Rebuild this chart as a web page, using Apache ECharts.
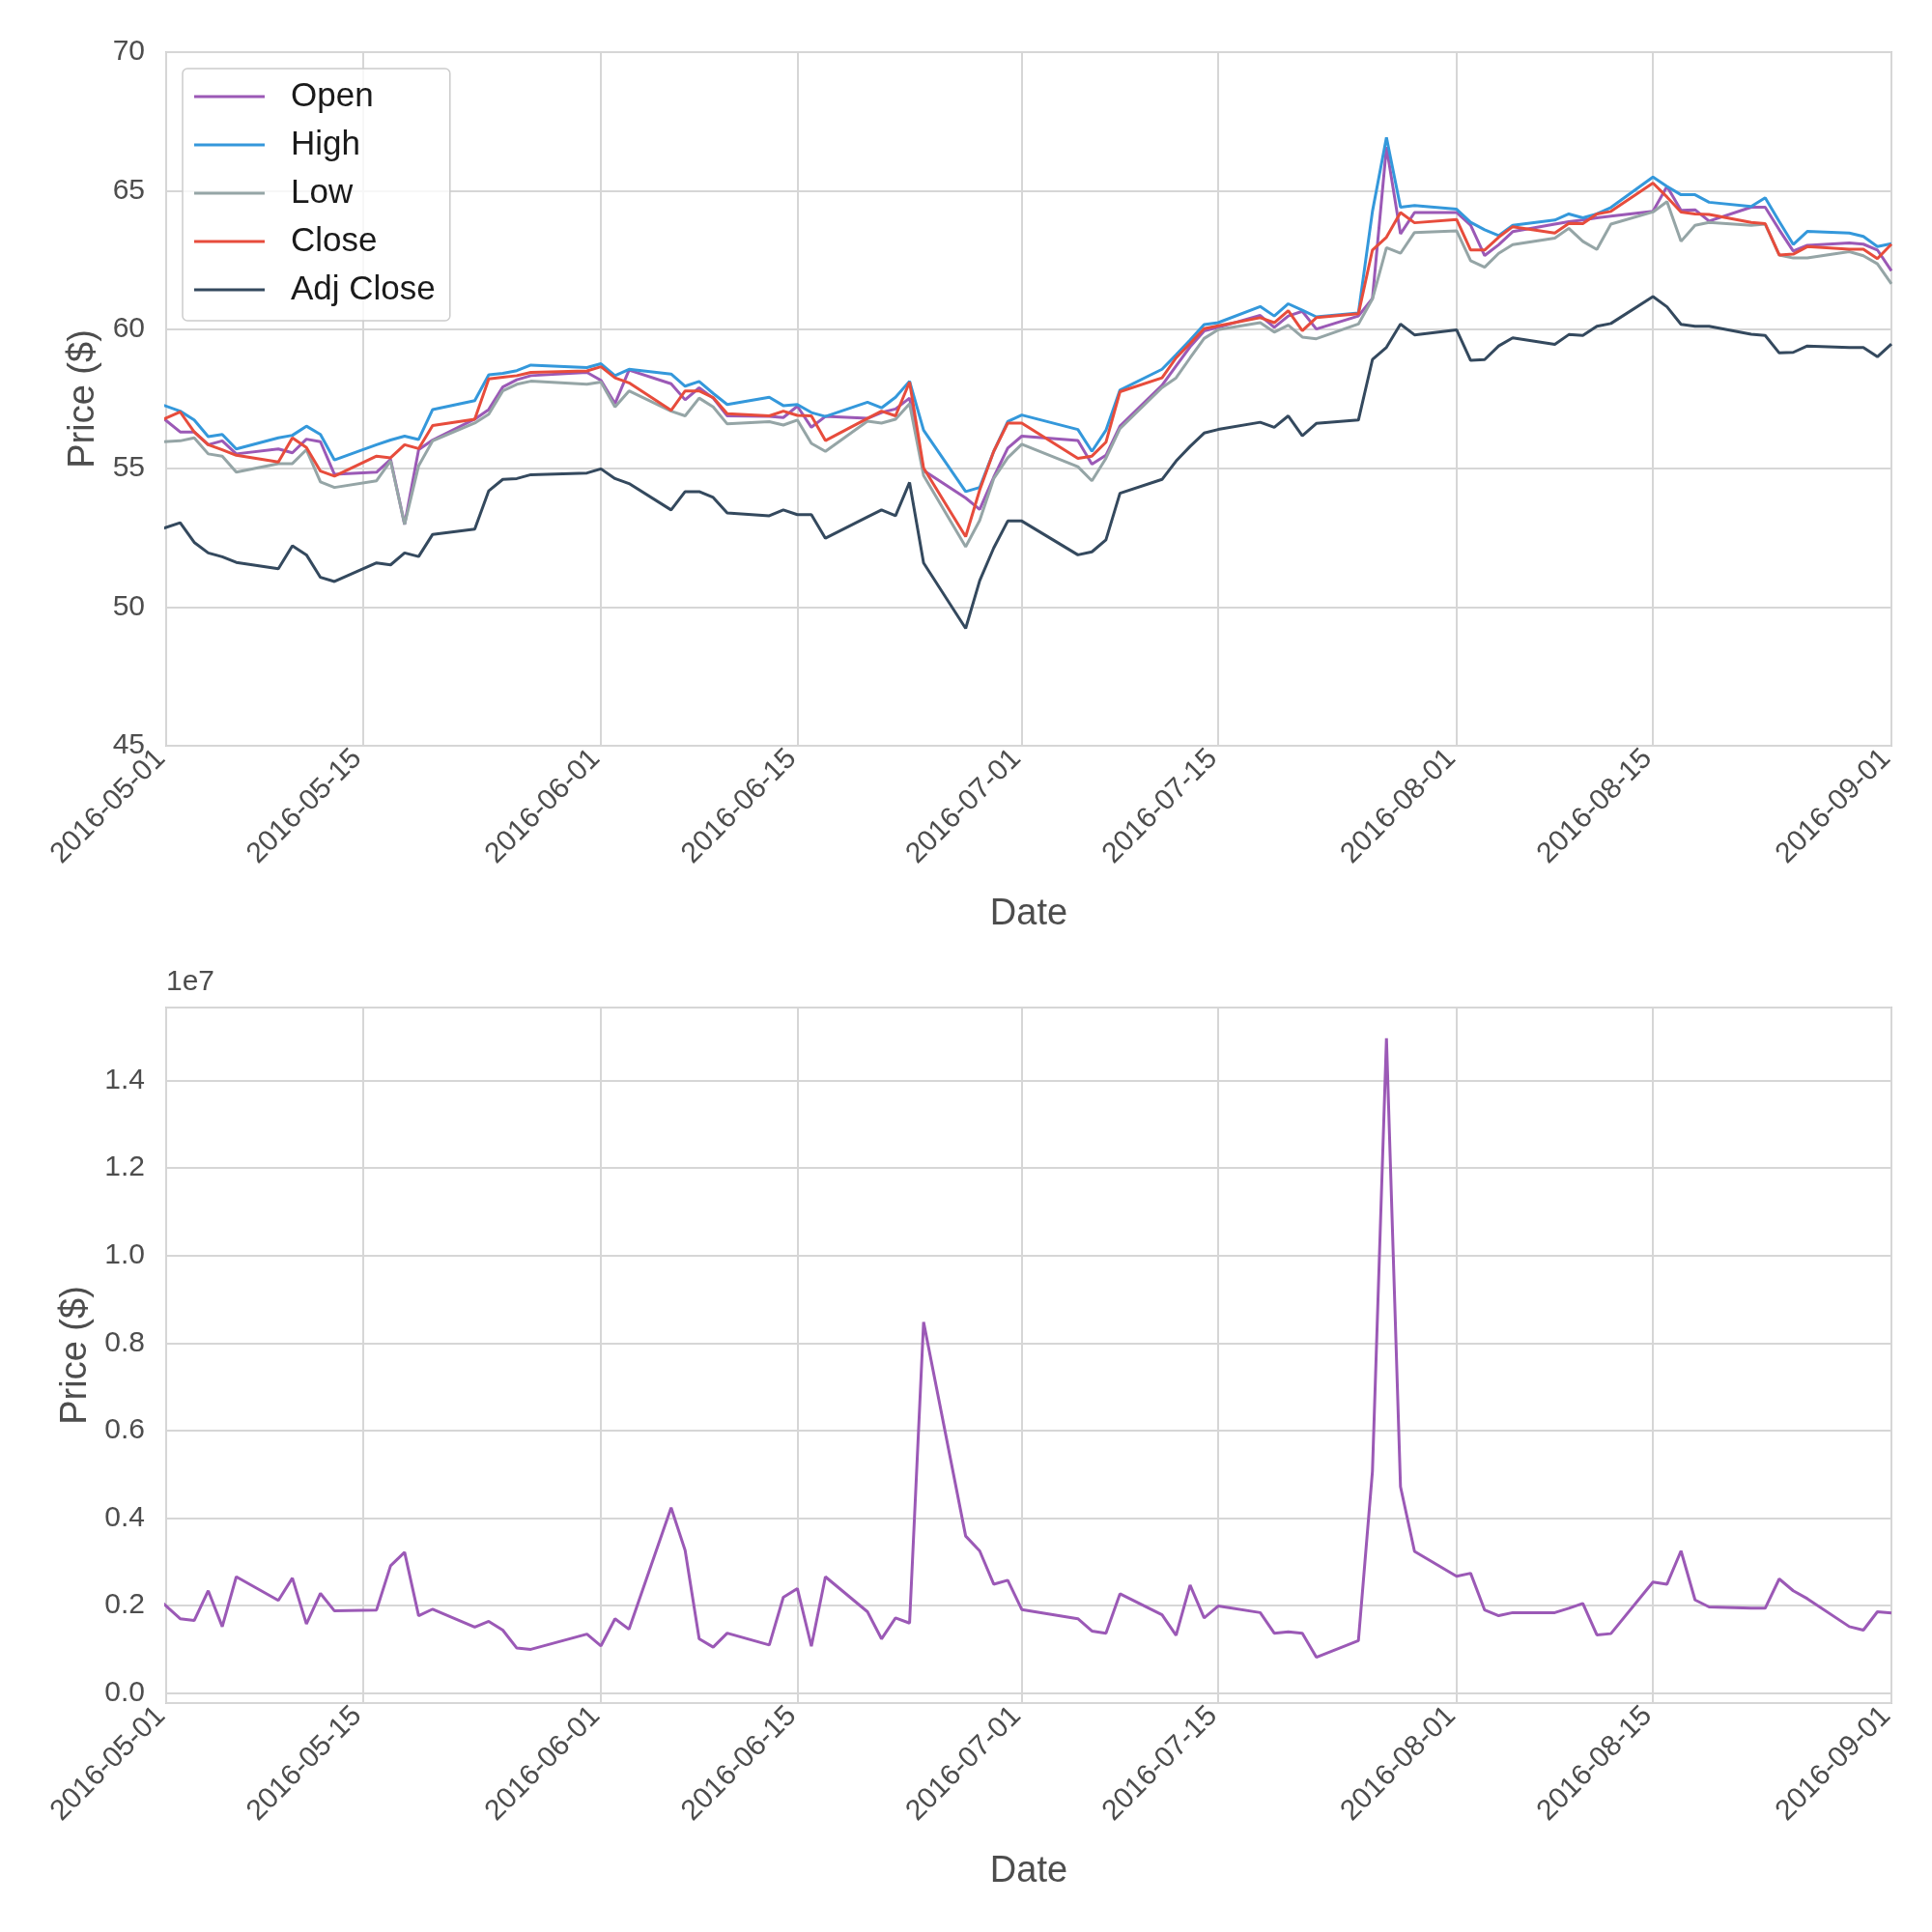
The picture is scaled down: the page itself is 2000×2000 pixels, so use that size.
<!DOCTYPE html>
<html>
<head>
<meta charset="utf-8">
<title>Prices and volume, May - Sep 2016</title>
<script src="https://cdn.jsdelivr.net/npm/echarts@6/dist/echarts.min.js"></script>
<style>
  html, body { margin: 0; padding: 0; background: #ffffff; }
  #main { width: 2000px; height: 2000px; }
</style>
</head>
<body>
<div id="main"></div>
<script>
// trading days (29 Apr only shows as the clipped segment at the left edge)
const dates = [
  '2016-04-29',
  '2016-05-02', '2016-05-03', '2016-05-04', '2016-05-05', '2016-05-06',
  '2016-05-09', '2016-05-10', '2016-05-11', '2016-05-12', '2016-05-13',
  '2016-05-16', '2016-05-17', '2016-05-18', '2016-05-19', '2016-05-20',
  '2016-05-23', '2016-05-24', '2016-05-25', '2016-05-26', '2016-05-27',
  '2016-05-31', '2016-06-01', '2016-06-02', '2016-06-03',
  '2016-06-06', '2016-06-07', '2016-06-08', '2016-06-09', '2016-06-10',
  '2016-06-13', '2016-06-14', '2016-06-15', '2016-06-16', '2016-06-17',
  '2016-06-20', '2016-06-21', '2016-06-22', '2016-06-23', '2016-06-24',
  '2016-06-27', '2016-06-28', '2016-06-29', '2016-06-30', '2016-07-01',
  '2016-07-05', '2016-07-06', '2016-07-07', '2016-07-08',
  '2016-07-11', '2016-07-12', '2016-07-13', '2016-07-14', '2016-07-15',
  '2016-07-18', '2016-07-19', '2016-07-20', '2016-07-21', '2016-07-22',
  '2016-07-25', '2016-07-26', '2016-07-27', '2016-07-28', '2016-07-29',
  '2016-08-01', '2016-08-02', '2016-08-03', '2016-08-04', '2016-08-05',
  '2016-08-08', '2016-08-09', '2016-08-10', '2016-08-11', '2016-08-12',
  '2016-08-15', '2016-08-16', '2016-08-17', '2016-08-18', '2016-08-19',
  '2016-08-22', '2016-08-23', '2016-08-24', '2016-08-25', '2016-08-26',
  '2016-08-29', '2016-08-30', '2016-08-31', '2016-09-01'
];

const openPrices = [
  57.54,
  56.31, 56.31, 55.85, 55.99, 55.52,
  55.70, 55.56, 56.05, 55.96, 54.78,
  54.86, 55.32, 52.98, 55.67, 56.02,
  56.77, 57.12, 57.93, 58.19, 58.34,
  58.46, 58.17, 57.33, 58.54,
  58.05, 57.47, 57.90, 57.53, 56.89,
  56.87, 56.83, 57.24, 56.48, 56.87,
  56.80, 57.01, 57.14, 57.53, 54.92,
  53.93, 53.52, 54.68, 55.73, 56.16,
  56.00, 55.15, 55.47, 56.52,
  57.99, 58.69, 59.38, 59.95, 60.08,
  60.51, 60.08, 60.49, 60.66, 60.02,
  60.49, 61.12, 66.58, 63.45, 64.22,
  64.22, 63.76, 62.67, 63.06, 63.53,
  63.80, 63.89, 63.95, 64.03, 64.09,
  64.26, 65.16, 64.30, 64.32, 63.91,
  64.41, 64.41, 63.60, 62.83, 63.04,
  63.12, 63.08, 62.87, 62.12
];

const highPrices = [
  57.60,
  57.06, 56.74, 56.14, 56.22, 55.70,
  56.10, 56.19, 56.52, 56.22, 55.30,
  55.85, 56.02, 56.16, 56.04, 57.12,
  57.44, 58.37, 58.42, 58.52, 58.72,
  58.63, 58.77, 58.34, 58.57,
  58.40, 57.96, 58.13, 57.70, 57.30,
  57.56, 57.26, 57.30, 57.01, 56.87,
  57.38, 57.18, 57.56, 58.14, 56.37,
  54.16, 54.31, 55.61, 56.69, 56.92,
  56.40, 55.61, 56.37, 57.82,
  58.57, 59.09, 59.62, 60.18, 60.25,
  60.83, 60.49, 60.93, 60.70, 60.46,
  60.60, 64.26, 66.93, 64.41, 64.47,
  64.34, 63.87, 63.60, 63.39, 63.76,
  63.95, 64.17, 64.03, 64.17, 64.40,
  65.50, 65.16, 64.86, 64.86, 64.59,
  64.44, 64.75, 63.90, 63.07, 63.54,
  63.48, 63.36, 62.99, 63.10
];

const lowPrices = [
  55.90,
  55.99, 56.10, 55.52, 55.44, 54.86,
  55.17, 55.17, 55.67, 54.51, 54.31,
  54.55, 55.27, 52.98, 55.09, 55.99,
  56.63, 56.95, 57.79, 58.03, 58.14,
  58.03, 58.11, 57.21, 57.79,
  57.06, 56.89, 57.53, 57.21, 56.60,
  56.68, 56.56, 56.74, 55.90, 55.61,
  56.70, 56.63, 56.77, 57.33, 54.74,
  52.17, 53.12, 54.63, 55.38, 55.87,
  55.06, 54.55, 55.36, 56.43,
  57.91, 58.26, 58.98, 59.68, 60.00,
  60.25, 59.91, 60.16, 59.73, 59.67,
  60.20, 61.10, 62.95, 62.75, 63.50,
  63.56, 62.48, 62.25, 62.75, 63.06,
  63.30, 63.65, 63.18, 62.89, 63.80,
  64.24, 64.61, 63.18, 63.76, 63.86,
  63.76, 63.80, 62.69, 62.58, 62.58,
  62.81, 62.66, 62.37, 61.65
];

const closePrices = [
  56.37,
  57.03, 56.31, 55.85, 55.67, 55.47,
  55.23, 56.10, 55.75, 54.90, 54.72,
  55.44, 55.38, 55.85, 55.71, 56.54,
  56.77, 58.22, 58.28, 58.34, 58.46,
  58.51, 58.66, 58.26, 58.08,
  57.09, 57.79, 57.79, 57.55, 56.97,
  56.89, 57.06, 56.91, 56.89, 56.00,
  56.80, 57.06, 56.89, 58.11, 55.01,
  52.54, 54.22, 55.61, 56.63, 56.63,
  55.36, 55.44, 55.94, 57.76,
  58.26, 58.98, 59.50, 60.03, 60.14,
  60.43, 60.25, 60.68, 59.96, 60.43,
  60.57, 62.87, 63.33, 64.22, 63.85,
  63.97, 62.87, 62.87, 63.33, 63.71,
  63.48, 63.83, 63.82, 64.17, 64.26,
  65.28, 64.78, 64.24, 64.17, 64.15,
  63.86, 63.82, 62.69, 62.72, 62.99,
  62.90, 62.90, 62.56, 63.08
];

const adjClosePrices = [
  52.53,
  53.04, 52.33, 51.95, 51.81, 51.61,
  51.38, 52.21, 51.88, 51.07, 50.92,
  51.59, 51.52, 51.95, 51.82, 52.62,
  52.81, 54.19, 54.60, 54.63, 54.77,
  54.83, 54.98, 54.63, 54.45,
  53.50, 54.16, 54.16, 53.95, 53.39,
  53.29, 53.50, 53.33, 53.33, 52.48,
  53.25, 53.50, 53.29, 54.49, 51.59,
  49.23, 50.95, 52.13, 53.10, 53.10,
  51.88, 51.99, 52.42, 54.10,
  54.60, 55.26, 55.79, 56.27, 56.40,
  56.66, 56.48, 56.89, 56.17, 56.62,
  56.74, 58.92, 59.36, 60.20, 59.81,
  59.99, 58.89, 58.92, 59.41, 59.70,
  59.47, 59.82, 59.79, 60.12, 60.22,
  61.19, 60.82, 60.19, 60.12, 60.12,
  59.83, 59.79, 59.16, 59.18, 59.41,
  59.35, 59.35, 59.02, 59.48
];

const volumes = [
  2570000,
  1700000, 1660000, 2340000, 1520000, 2660000,
  2120000, 2630000, 1580000, 2280000, 1880000,
  1900000, 2910000, 3220000, 1770000, 1920000,
  1510000, 1640000, 1440000, 1030000, 1000000,
  1350000, 1080000, 1700000, 1460000,
  4240000, 3260000, 1240000, 1050000, 1370000,
  1100000, 2190000, 2390000, 1070000, 2660000,
  1860000, 1240000, 1720000, 1600000, 8480000,
  3590000, 3250000, 2490000, 2580000, 1910000,
  1700000, 1420000, 1370000, 2270000,
  1790000, 1320000, 2470000, 1720000, 1990000,
  1840000, 1370000, 1400000, 1370000, 820000,
  1200000, 5070000, 14970000, 4720000, 3240000,
  2670000, 2740000, 1900000, 1770000, 1840000,
  1840000, 1940000, 2050000, 1330000, 1360000,
  2540000, 2490000, 3250000, 2130000, 1970000,
  1940000, 1940000, 2610000, 2340000, 2160000,
  1520000, 1440000, 1860000, 1830000
];

const seriesNames = ['Open', 'High', 'Low', 'Close', 'Adj Close'];
const tickDates = ['2016-05-01', '2016-05-15', '2016-06-01', '2016-06-15', '2016-07-01',
  '2016-07-15', '2016-08-01', '2016-08-15', '2016-09-01'];

const colors = ['#9b59b6', '#3498db', '#95a5a6', '#e74c3c', '#34495e'];
const fontFamily = '"Liberation Sans", Arial, sans-serif';
const textGray = '#4d4d4d';
const gridGray = '#d6d6d6';

// dates become millisecond numbers on a plain value axis
function toTime(s) {
  const p = s.split('-');
  return Date.UTC(+p[0], +p[1] - 1, +p[2]);
}
function fmtDate(v) {
  const d = new Date(v);
  return d.getUTCFullYear() + '-' + String(d.getUTCMonth() + 1).padStart(2, '0') + '-' +
    String(d.getUTCDate()).padStart(2, '0');
}

const tickTimes = tickDates.map(toTime);
const xMin = tickTimes[0];
const xMax = tickTimes[tickTimes.length - 1];

function dateAxis(gridIndex) {
  return {
    type: 'value',
    gridIndex: gridIndex,
    min: xMin,
    max: xMax,
    name: 'Date',
    nameLocation: 'middle',
    nameGap: 156,
    nameTextStyle: { fontSize: 38, color: textGray, fontFamily: fontFamily },
    axisLine: { show: false },
    axisTick: { show: false, customValues: tickTimes },
    axisLabel: {
      customValues: tickTimes,
      formatter: fmtDate,
      rotate: 45,
      margin: 3,
      padding: [0, 8, 0, 0],
      fontSize: 30,
      color: textGray,
      fontFamily: fontFamily
    },
    splitLine: { show: true, lineStyle: { color: gridGray, width: 2 } }
  };
}

const priceLists = [openPrices, highPrices, lowPrices, closePrices, adjClosePrices];
const priceSeries = priceLists.map(function (vals, i) {
  return {
    name: seriesNames[i],
    type: 'line',
    xAxisIndex: 0,
    yAxisIndex: 0,
    data: dates.map(function (d, j) { return [toTime(d), vals[j]]; }),
    symbol: 'none',
    clip: true,
    lineStyle: { width: 3, color: colors[i] },
    itemStyle: { color: colors[i] }
  };
});

const volumeSeries = {
  name: 'Volume',
  type: 'line',
  xAxisIndex: 1,
  yAxisIndex: 1,
  data: dates.map(function (d, j) { return [toTime(d), volumes[j]]; }),
  symbol: 'none',
  clip: true,
  lineStyle: { width: 3, color: colors[0] },
  itemStyle: { color: colors[0] }
};

const chart = echarts.init(document.getElementById('main'), null, { renderer: 'canvas' });

let option = {
  backgroundColor: '#ffffff',
  animation: false,
  textStyle: { fontFamily: fontFamily },
  grid: [
    { left: 172, top: 54, width: 1786, height: 718, show: true, borderColor: '#cccccc', borderWidth: 2 },
    { left: 172, top: 1043, width: 1786, height: 720, show: true, borderColor: '#cccccc', borderWidth: 2 }
  ],
  legend: {
    data: seriesNames,
    orient: 'vertical',
    left: 189,
    top: 71,
    icon: 'rect',       // plain line sample, no marker
    itemWidth: 73,
    itemHeight: 3,
    itemGap: 14,
    padding: [11, 15, 14, 12],
    backgroundColor: 'rgba(255,255,255,0.8)',
    borderColor: '#cccccc',
    borderWidth: 1.5,
    borderRadius: 5,
    textStyle: { fontSize: 35, lineHeight: 36, color: '#1a1a1a', fontFamily: fontFamily, padding: [0, 0, 0, 22] }
  },
  xAxis: [dateAxis(0), dateAxis(1)],
  yAxis: [
    {
      type: 'value',
      gridIndex: 0,
      min: 45,
      max: 70,
      interval: 5,
      name: 'Price ($)',
      nameLocation: 'middle',
      nameRotate: 90,
      nameGap: 66,
      nameTextStyle: { fontSize: 38, color: textGray, fontFamily: fontFamily },
      axisLine: { show: false },
      axisTick: { show: false },
      axisLabel: { fontSize: 30, color: textGray, margin: 22, fontFamily: fontFamily },
      splitLine: { lineStyle: { color: gridGray, width: 2 } }
    },
    {
      // volume axis, labels shown in units of 1e7 like the offset notation
      type: 'value',
      gridIndex: 1,
      min: -227000,
      max: 15670000,
      splitNumber: 8,
      name: 'Price ($)',
      nameLocation: 'middle',
      nameRotate: 90,
      nameGap: 73,
      nameTextStyle: { fontSize: 38, color: textGray, fontFamily: fontFamily },
      axisLine: { show: false },
      axisTick: { show: false },
      axisLabel: {
        fontSize: 30,
        color: textGray,
        margin: 22,
        fontFamily: fontFamily,
        showMinLabel: false,
        showMaxLabel: false,
        formatter: function (v) { return (v / 1e7).toFixed(1); }
      },
      splitLine: { lineStyle: { color: gridGray, width: 2 } }
    }
  ],
  graphic: [
    {
      type: 'text',
      left: 172,
      top: 1002,
      style: { text: '1e7', fontSize: 30, fontFamily: fontFamily, fill: textGray }
    }
  ],
  series: priceSeries.concat([volumeSeries])
};

chart.setOption(option);
</script>
</body>
</html>
